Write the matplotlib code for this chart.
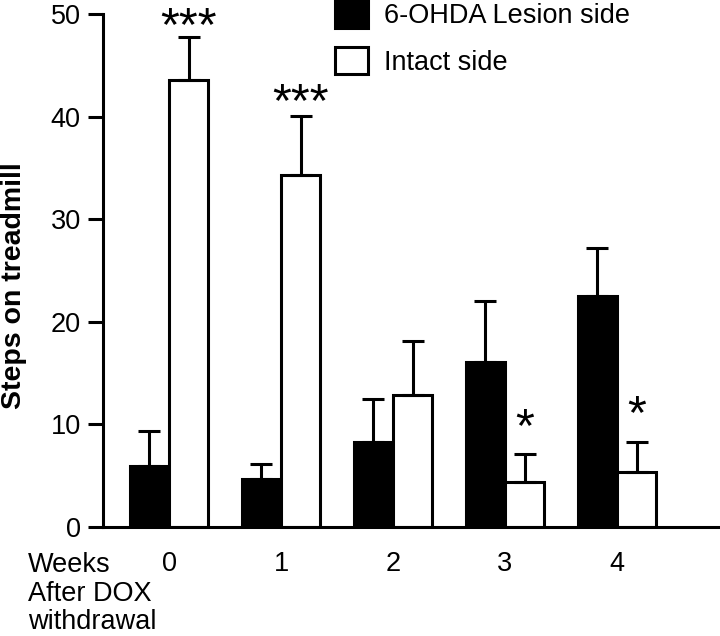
import matplotlib
matplotlib.use("Agg")
import matplotlib.pyplot as plt
import numpy as np

plt.rcParams['font.family'] = ['Liberation Sans', 'DejaVu Sans']

weeks = ['0', '1', '2', '3', '4']
lesion = [5.9, 4.7, 8.3, 16.1, 22.5]
lesion_err = [3.5, 1.4, 4.2, 5.9, 4.7]
intact = [43.6, 34.3, 12.9, 4.4, 5.4]
intact_err = [4.2, 5.8, 5.2, 2.7, 2.9]
stars = ['***', '***', '', '*', '*']
star_gap = [-0.3, 0.0, 0, 1.3, 1.3]

fig = plt.figure(figsize=(7.2, 6.36), dpi=100)
ax = fig.add_axes([103 / 720, 1 - 527 / 636, 1 - 103 / 720, 513 / 636])

x = np.arange(len(weeks))
w = 0.35
lw = 2.2
fs = 19.5

ax.bar(x - w / 2, lesion, w, color='black', edgecolor='black', linewidth=lw,
       yerr=[np.zeros(5), lesion_err], capsize=8,
       error_kw=dict(elinewidth=lw, capthick=lw, ecolor='black'),
       label='6-OHDA Lesion side', zorder=2)
ax.bar(x + w / 2, intact, w, color='white', edgecolor='black', linewidth=lw,
       yerr=[np.zeros(5), intact_err], capsize=8,
       error_kw=dict(elinewidth=lw, capthick=lw, ecolor='black'),
       label='Intact side', zorder=2)

for i, s in enumerate(stars):
    if s:
        ax.text(x[i] + w / 2, intact[i] + intact_err[i] + star_gap[i], s,
                ha='center', va='baseline', fontsize=35, clip_on=False)

ax.set_xlim(-0.59, 4.92)
ax.set_ylim(0, 50)
ax.set_yticks([0, 10, 20, 30, 40, 50])
ax.set_xticks(x)
ax.set_xticklabels(weeks)
ax.tick_params(axis='y', length=11, width=lw, labelsize=fs, pad=5)
ax.tick_params(axis='x', length=0, labelsize=fs, pad=17)

ax.spines['top'].set_visible(False)
ax.spines['right'].set_visible(False)
ax.spines['left'].set_linewidth(lw)
ax.spines['bottom'].set_linewidth(lw)

ax.set_ylabel('Steps on treadmill', fontsize=20.5, fontweight='bold')
ax.yaxis.set_label_coords(-76 / 617, 0.47)

fig.text(28 / 720, 1 - 552 / 636, 'Weeks\nAfter DOX\nwithdrawal',
         ha='left', va='top', fontsize=fs, linespacing=1.13)

ax.legend(loc='upper left', bbox_to_anchor=(335 / 720, 1.0),
          bbox_transform=fig.transFigure, frameon=False, fontsize=fs,
          handlelength=1.2, handleheight=1.2, handletextpad=0.6,
          labelspacing=0.65, borderpad=0, borderaxespad=0)

fig.savefig('out.png', dpi=100)
